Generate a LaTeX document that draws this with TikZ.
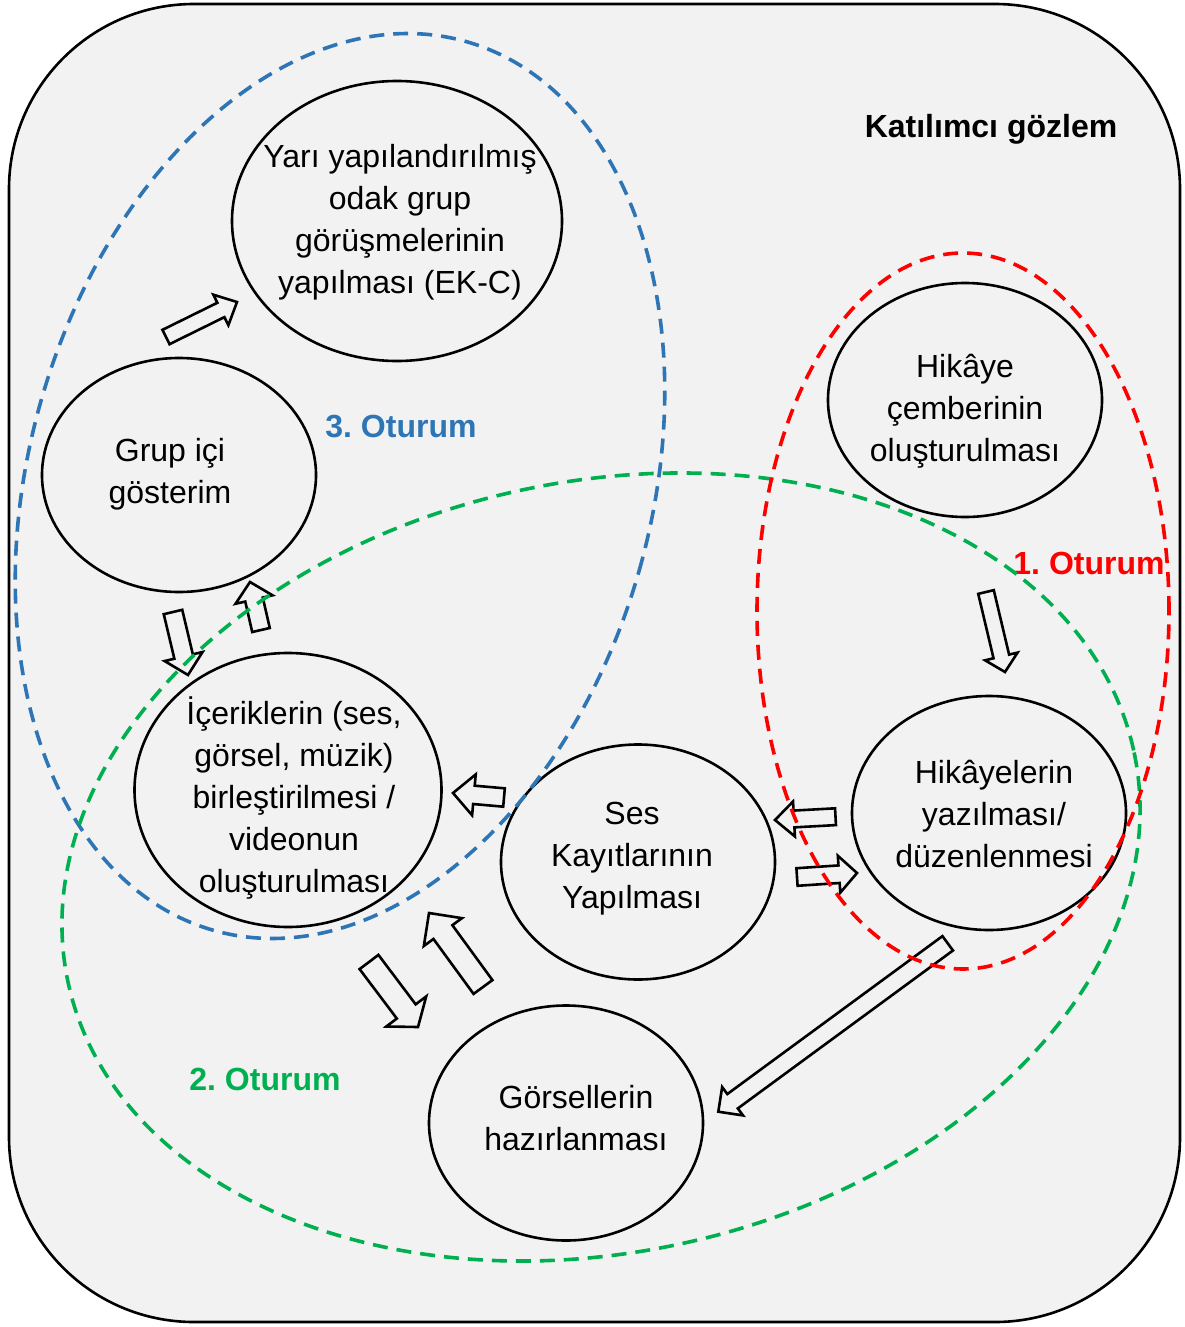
\documentclass[tikz,border=0pt]{standalone}
\usepackage{fontspec}
\setmainfont{Liberation Sans}
\usetikzlibrary{calc,shapes.geometric}
\frenchspacing
\definecolor{bg}{HTML}{F2F2F2}
\definecolor{bluec}{HTML}{2E75B6}
\definecolor{greenc}{HTML}{00B050}
\definecolor{redc}{HTML}{FF0000}
\tikzset{
  ell/.style={draw=black, line width=2.6pt, ellipse, inner sep=0pt, outer sep=0pt},
  txt/.style={align=center, font=\fontsize{32}{42}\selectfont, inner sep=0pt},
  lbl/.style={font=\fontsize{32}{40}\selectfont\bfseries, inner sep=0pt},
  barrow/.style={draw=black, line width=2.6pt, line join=miter},
  dsh/.style={line width=3.6pt, dash pattern=on 15pt off 9pt},
}
\newcommand\blockarr[6]{%
  \coordinate (#1-n) at ($(#3)!#6!(#2)$);
  \draw[barrow] ($(#2)!#4!-90:(#3)$) -- ($(#1-n)!#4!-90:(#3)$) -- ($(#1-n)!#5!-90:(#3)$) -- (#3) -- ($(#1-n)!#5!90:(#3)$) -- ($(#1-n)!#4!90:(#3)$) -- ($(#2)!#4!90:(#3)$) -- cycle;}
\begin{document}
\begin{tikzpicture}[x=1pt,y=-1pt]
\useasboundingbox (0,0) rectangle (1185,1327);
\draw[line width=2.6pt, fill=bg, rounded corners=185pt] (9,4) rectangle (1180,1322);

% ellipse nodes
\node[ell, minimum width=330pt, minimum height=280pt] (e1) at (397,221) {};
\node[ell, minimum width=274pt, minimum height=234pt] (e2) at (179,475) {};
\node[ell, minimum width=307pt, minimum height=274pt] (e3) at (288,790) {};
\node[ell, minimum width=274pt, minimum height=235pt] (e4) at (638,862) {};
\node[ell, minimum width=274pt, minimum height=234pt] (e5) at (965,400) {};
\node[ell, minimum width=274pt, minimum height=234pt] (e6) at (989,813) {};
\node[ell, minimum width=274pt, minimum height=235pt] (e7) at (566,1123) {};

% texts
\node[txt] (t1) at (400,222) {Yarı yapılandırılmış\\odak grup\\görüşmelerinin\\yapılması (EK-C)};
\node[txt] (t2) at (170,474) {Grup içi\\gösterim};
\node[txt] (t3) at (294,798) {İçeriklerin (ses,\\görsel, müzik)\\birleştirilmesi /\\videonun\\oluşturulması};
\node[txt] (t4) at (632,859) {Ses\\Kayıtlarının\\Yapılması};
\node[txt] (t5) at (965,411) {Hikâye\\çemberinin\\oluşturulması};
\node[txt] (t6) at (994,814) {Hikâyelerin\\yazılması/\\düzenlenmesi};
\node[txt] (t7) at (576,1118) {Görsellerin\\hazırlanması};

% labels
\node[lbl, text=black] (l0) at (991,129) {Katılımcı gözlem};
\node[lbl, text=bluec] (l3) at (401,427) {3. Oturum};
\node[lbl, text=redc] (l1) at (1089,563) {1. Oturum};
\node[lbl, text=greenc] (l2) at (265,1079) {2. Oturum};

% block arrows: coordinates of tails and tips
\coordinate (a1s) at (166,337); \coordinate (a1e) at (237,302);
\coordinate (a2s) at (173,612); \coordinate (a2e) at (188,675);
\coordinate (a3s) at (261,630); \coordinate (a3e) at (250,582);
\coordinate (a4s) at (504,797.5); \coordinate (a4e) at (453,793);
\coordinate (a5s) at (835.5,816.7); \coordinate (a5e) at (775,820);
\coordinate (a6s) at (797,877); \coordinate (a6e) at (857,873);
\coordinate (a7s) at (369,962); \coordinate (a7e) at (418,1027);
\coordinate (a8s) at (483,987); \coordinate (a8e) at (429,913);
\coordinate (a9s) at (947.7,943.3); \coordinate (a9e) at (718.3,1111.7);
\coordinate (a10s) at (986,592); \coordinate (a10e) at (1005,672);

\blockarr{a1}{a1s}{a1e}{8pt}{17pt}{18pt}
\blockarr{a2}{a2s}{a2e}{9.5pt}{19.5pt}{19pt}
\blockarr{a3}{a3s}{a3e}{9pt}{19pt}{18pt}
\blockarr{a4}{a4s}{a4e}{9.2pt}{20.5pt}{21pt}
\blockarr{a5}{a5s}{a5e}{8.4pt}{17.5pt}{19pt}
\blockarr{a6}{a6s}{a6e}{8.8pt}{18.5pt}{18pt}
\blockarr{a7}{a7s}{a7e}{11.8pt}{25pt}{19.5pt}
\blockarr{a8}{a8s}{a8e}{11.7pt}{23.6pt}{23.6pt}
\blockarr{a9}{a9s}{a9e}{8.9pt}{17.6pt}{17.7pt}
\blockarr{a10}{a10s}{a10e}{8pt}{16.7pt}{16pt}

% dashed session ellipses
\draw[dsh, draw=bluec, rotate around={-15.9:(340,486)}] (340,486) ellipse (310.9pt and 462pt);
\draw[dsh, draw=greenc, rotate around={12.35:(601,867)}] (601,867) ellipse (545.3pt and 385.2pt);
\draw[dsh, draw=redc] (963,611) ellipse (206pt and 358pt);
\end{tikzpicture}
\end{document}
